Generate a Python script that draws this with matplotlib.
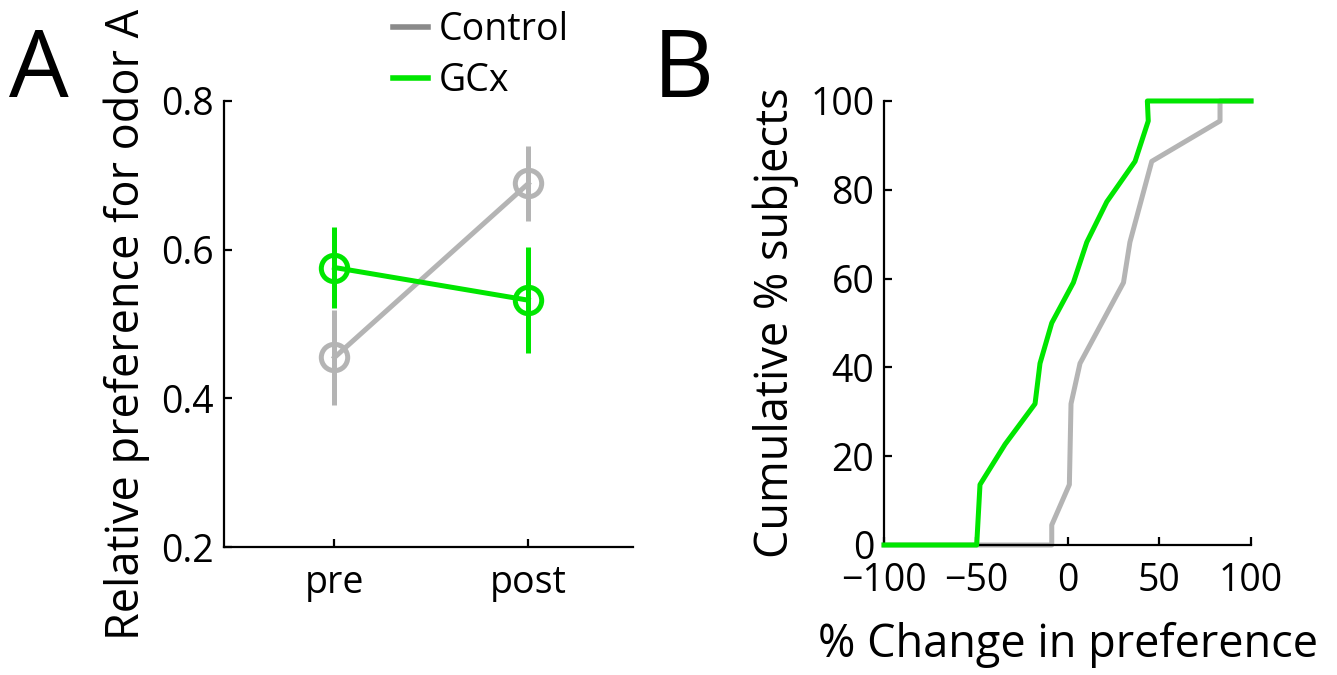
import matplotlib
matplotlib.use("Agg")
import matplotlib.pyplot as plt
from matplotlib.lines import Line2D

plt.rcParams['font.family'] = ['Open Sans', 'DejaVu Sans']

# ---- Panel A data ----
conditions = ["pre", "post"]
control_mean = [0.455, 0.689]
control_err = [0.064, 0.051]
gcx_mean = [0.576, 0.532]
gcx_err = [0.054, 0.071]

# ---- Panel B data (cumulative distributions) ----
gcx_change = [-100, -49.5, -47.7, -34, -17.7, -15, -8.6, 3.2, 10.5, 21.4, 36.8, 44, 43.5, 100]
gcx_cum = [0, 0, 13.6, 22.7, 31.8, 40.9, 50, 59.1, 68.2, 77.3, 86.4, 95.5, 100, 100]
control_change = [-100, -8.6, -8.6, 1.0, 1.9, 6.8, 30.5, 34, 45.9, 83.1, 83.1, 100]
control_cum = [0, 0, 4.5, 13.6, 31.8, 40.9, 59.1, 68.2, 86.4, 95.5, 100, 100]

ticks_a = [0.2, 0.4, 0.6, 0.8]
ticks_bx = [-100, -50, 0, 50, 100]
ticks_by = [0, 20, 40, 60, 80, 100]

GRAY = "#b4b4b4"
GRAY_LEG = "#8a8a8a"
GREEN = "#00e600"

TICK_FS = 27
LABEL_FS = 32.5

fig = plt.figure(figsize=(13.37, 6.75), dpi=100)
axA = fig.add_axes([0.1675, 0.1896, 0.306, 0.6608])
axB = fig.add_axes([0.6612, 0.1926, 0.2745, 0.6578])

for ax in (axA, axB):
    for s in ("top", "right"):
        ax.spines[s].set_visible(False)
    for s in ("left", "bottom"):
        ax.spines[s].set_linewidth(1.6)
    ax.tick_params(direction="in", length=6, width=1.6, labelsize=TICK_FS)
    ax.tick_params(axis="x", pad=12)
    ax.tick_params(axis="y", pad=7)

# Panel A
xpos = [1, 2]
lw = 3.6
axA.errorbar(xpos, control_mean, yerr=control_err, color=GRAY, lw=lw, elinewidth=lw,
             capsize=0, marker="o", ms=19, mfc="none", mec=GRAY, mew=3.6, zorder=2)
axA.errorbar(xpos, gcx_mean, yerr=gcx_err, color=GREEN, lw=lw, elinewidth=lw,
             capsize=0, marker="o", ms=19, mfc="none", mec=GREEN, mew=3.6, zorder=3)
axA.set_xlim(0.43, 2.54)
axA.set_ylim(0.2, 0.8)
axA.set_yticks(ticks_a)
axA.set_yticklabels([f"{t:.1f}" for t in ticks_a])
axA.set_xticks(xpos)
axA.set_xticklabels(conditions)
axA.set_ylabel("Relative preference for odor A", fontsize=LABEL_FS, labelpad=8)

handles = [Line2D([], [], color=GRAY_LEG, lw=4), Line2D([], [], color=GREEN, lw=4)]
axA.legend(handles, ["Control", "GCx"], loc="upper left",
           bbox_to_anchor=(0.283, 1.006), bbox_transform=fig.transFigure,
           frameon=False, fontsize=TICK_FS, handlelength=0.92, handletextpad=0.3,
           labelspacing=0.35, borderaxespad=0)

# Panel B
axB.plot(control_change, control_cum, color=GRAY, lw=lw, clip_on=False, zorder=2)
axB.plot(gcx_change, gcx_cum, color=GREEN, lw=lw, clip_on=False, zorder=3)
axB.set_xlim(-100, 100)
axB.set_ylim(0, 100)
axB.set_xticks(ticks_bx)
axB.set_xticklabels([str(t).replace("-", "\u2212") for t in ticks_bx])
axB.set_yticks(ticks_by)
axB.set_xlabel("% Change in preference", fontsize=LABEL_FS, labelpad=16)
axB.set_ylabel("Cumulative % subjects", fontsize=LABEL_FS, labelpad=8)

fig.text(0.007, 1 - 97 / 675, "A", fontsize=68, va="baseline", ha="left")
fig.text(0.488, 1 - 97 / 675, "B", fontsize=68, va="baseline", ha="left")

fig.savefig("out.png", dpi=100)
